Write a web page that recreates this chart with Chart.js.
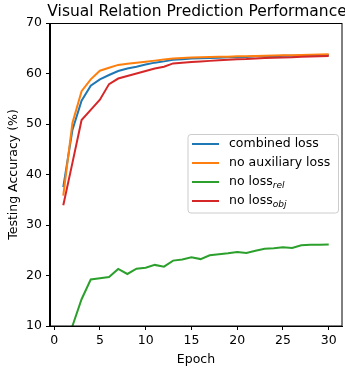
<!DOCTYPE html>
<html>
<head>
<meta charset="utf-8">
<script src="https://cdn.jsdelivr.net/npm/chart.js@4.4.1/dist/chart.umd.min.js"></script>
<style>
  html, body { margin: 0; padding: 0; background: #fff; }
  #wrap { width: 345px; height: 368px; }
</style>
</head>
<body>
<div id="wrap"><canvas id="accChart"></canvas></div>
<script>
const epochs = [1, 2, 3, 4, 5, 6, 7, 8, 9, 10, 11, 12, 13, 14, 15,
                16, 17, 18, 19, 20, 21, 22, 23, 24, 25, 26, 27, 28, 29, 30];

const combinedLoss = [37.5, 48.8, 54.6, 57.6, 58.85, 59.7, 60.5, 61.0, 61.35, 61.8,
                      62.15, 62.4, 62.7, 62.8, 62.95, 63.0, 63.05, 63.1, 63.2, 63.2,
                      63.25, 63.4, 63.4, 63.35, 63.5, 63.5, 63.55, 63.6, 63.6, 63.65];
const noAuxLoss = [35.8, 50.2, 56.5, 58.85, 60.55, 61.15, 61.7, 61.95, 62.15, 62.35,
                   62.55, 62.75, 62.95, 63.05, 63.15, 63.2, 63.25, 63.3, 63.3, 63.4,
                   63.4, 63.45, 63.5, 63.55, 63.6, 63.6, 63.65, 63.7, 63.75, 63.8];
const noLossRel = [5.0, 10.0, 15.3, 19.2, 19.45, 19.7, 21.3, 20.3, 21.35, 21.55,
                   22.1, 21.75, 22.95, 23.15, 23.6, 23.25, 24.0, 24.2, 24.4, 24.65,
                   24.45, 24.9, 25.3, 25.4, 25.6, 25.45, 26.0, 26.1, 26.1, 26.15];
const noLossObj = [33.9, 42.3, 50.8, 52.8, 54.8, 57.9, 59.0, 59.5, 60.0, 60.5,
                   61.0, 61.35, 62.0, 62.15, 62.3, 62.4, 62.5, 62.6, 62.7, 62.8,
                   62.85, 62.95, 63.05, 63.1, 63.15, 63.2, 63.3, 63.35, 63.4, 63.45];

// "_" marks the start of a subscript in the legend
const seriesLabels = ["combined loss", "no auxiliary loss", "no loss_rel", "no loss_obj"];
const seriesColors = ["#1f77b4", "#ff7f0e", "#2ca02c", "#d62728"];

const xTicks = [0, 5, 10, 15, 20, 25, 30];
const yTicks = [10, 20, 30, 40, 50, 60, 70];

const titleText = "Visual Relation Prediction Performance";
const FONT = "DejaVu Sans";

const seriesValues = [combinedLoss, noAuxLoss, noLossRel, noLossObj];

const datasets = seriesValues.map((vals, i) => ({
  label: seriesLabels[i],
  data: epochs.map((e, j) => ({ x: e, y: vals[j] })),
  borderColor: seriesColors[i],
  backgroundColor: seriesColors[i],
  borderWidth: 2,
  pointRadius: 0,
  tension: 0,
  fill: false,
  order: seriesValues.length - i   // later series sit on top
}));

// title, full box around the axes, and the legend with subscripts
const decorations = {
  id: "decorations",
  afterDatasetsDraw(chart) {
    const { ctx, chartArea: a } = chart;
    ctx.save();
    ctx.strokeStyle = "#000";
    ctx.lineWidth = 1;
    ctx.strokeRect(Math.round(a.left) - 0.5, Math.round(a.top) + 0.5,
                   Math.round(a.right - a.left) + 0.5, Math.round(a.bottom - a.top) - 0.5);

    ctx.fillStyle = "#000";
    ctx.font = "15.5px '" + FONT + "'";
    ctx.textAlign = "center";
    ctx.textBaseline = "alphabetic";
    ctx.fillText(titleText, (a.left + a.right) / 2 + 1, 16);

    // legend
    const w = 150.5, h = 78.5;
    const bx = a.right - 4 - w, by = 134;
    ctx.beginPath();
    ctx.roundRect(bx + 0.5, by + 0.5, w, h, 3);
    ctx.fillStyle = "rgba(255,255,255,0.8)";
    ctx.fill();
    ctx.strokeStyle = "#cccccc";
    ctx.stroke();

    chart.data.datasets.forEach((ds, i) => {
      const y = by + 10 + i * 19;
      ctx.strokeStyle = ds.borderColor;
      ctx.lineWidth = 2;
      ctx.beginPath();
      ctx.moveTo(bx + 4.5, y);
      ctx.lineTo(bx + 31.5, y);
      ctx.stroke();

      const [main, sub] = ds.label.split("_");
      ctx.fillStyle = "#000";
      ctx.textAlign = "left";
      ctx.textBaseline = "middle";
      ctx.font = "12.5px '" + FONT + "'";
      ctx.fillText(main, bx + 41.5, y);
      if (sub) {
        const mw = ctx.measureText(main).width;
        ctx.font = "italic 9px '" + FONT + "'";
        ctx.fillText(sub, bx + 41.5 + mw, y + 3.5);
      }
    });
    ctx.restore();
  }
};

const tickFont = { family: FONT, size: 12.5 };

new Chart(document.getElementById("accChart"), {
  type: "line",
  data: { datasets: datasets },
  options: {
    responsive: true,
    maintainAspectRatio: false,
    animation: false,
    layout: { padding: { top: 23, right: 3, left: 0, bottom: 0 } },
    plugins: {
      legend: { display: false },
      title: { display: false },
      tooltip: { enabled: false }
    },
    scales: {
      x: {
        type: "linear",
        min: -0.45,
        max: 31.45,
        afterBuildTicks: s => { s.ticks = xTicks.map(v => ({ value: v })); },
        afterFit: s => { s.height = 42; },
        grid: { drawOnChartArea: false, drawTicks: true, tickLength: 4, color: "#000" },
        border: { display: true, color: "#000", width: 1 },
        ticks: { font: tickFont, color: "#000", padding: 3, maxRotation: 0, autoSkip: false },
        title: { display: true, text: "Epoch", font: tickFont, color: "#000",
                 padding: { top: 0, bottom: 1 } }
      },
      y: {
        type: "linear",
        min: 10,
        max: 70,
        afterBuildTicks: s => { s.ticks = yTicks.map(v => ({ value: v })); },
        afterFit: s => { s.width = 50; },
        grid: { drawOnChartArea: false, drawTicks: true, tickLength: 4, color: "#000" },
        border: { display: true, color: "#000", width: 1 },
        ticks: { font: tickFont, color: "#000", padding: 4, autoSkip: false },
        title: { display: true, text: "Testing Accuracy (%)", font: tickFont, color: "#000",
                 padding: { top: 6, bottom: 0 } }
      }
    }
  },
  plugins: [decorations]
});
</script>
</body>
</html>
